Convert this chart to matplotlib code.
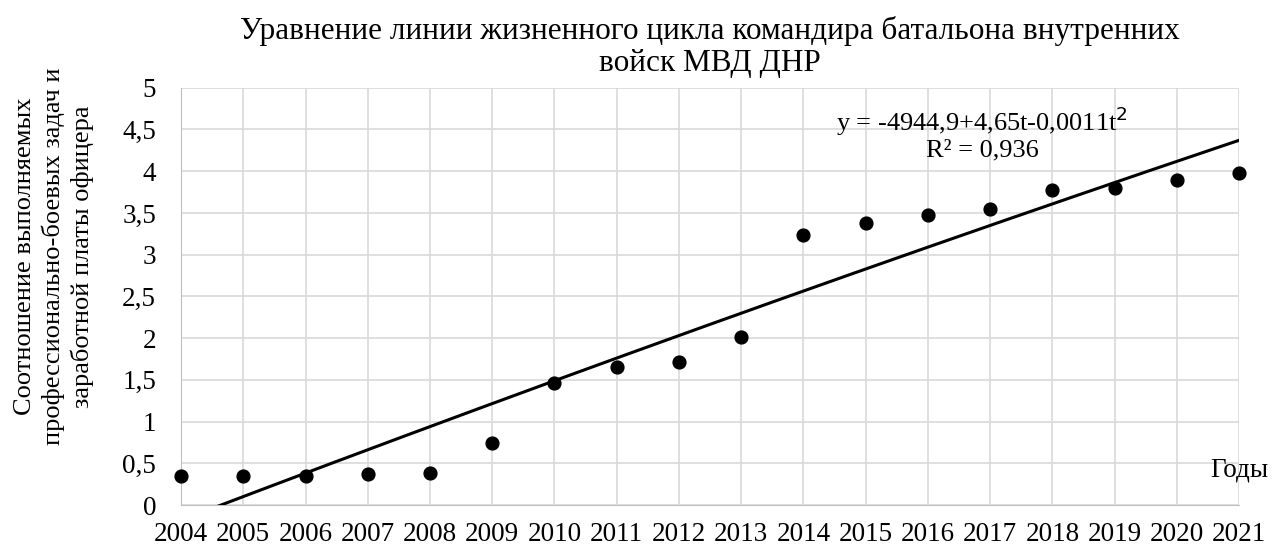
import matplotlib.pyplot as plt
import numpy as np

plt.rcParams["font.family"] = ["Liberation Serif", "DejaVu Serif"]

years = [2004, 2005, 2006, 2007, 2008, 2009, 2010, 2011, 2012,
         2013, 2014, 2015, 2016, 2017, 2018, 2019, 2020, 2021]
ratio = [0.35, 0.35, 0.35, 0.37, 0.39, 0.74, 1.46, 1.66, 1.72,
         2.01, 3.24, 3.38, 3.48, 3.55, 3.77, 3.80, 3.90, 3.98]
y_ticks = [0, 0.5, 1, 1.5, 2, 2.5, 3, 3.5, 4, 4.5, 5]

fig = plt.figure(figsize=(12.84, 5.52), dpi=100)
ax = fig.add_axes([0.141, 0.085, 0.824, 0.756])

# trend line fitted to the points
coef = np.polyfit(years, ratio, 2)
xs = np.linspace(years[0], years[-1], 200)
ax.plot(xs, np.polyval(coef, xs), color="black", lw=2.2, zorder=3)

ax.scatter(years, ratio, s=85, color="black", zorder=4, clip_on=False)

ax.set_xlim(years[0], years[-1])
ax.set_ylim(0, 5)
ax.set_xticks(years)
ax.set_xticklabels([str(y) for y in years], fontsize=19.5)
ax.set_yticks(y_ticks)
ax.set_yticklabels([f"{v:g}".replace(".", ",") for v in y_ticks], fontsize=19.5)
ax.tick_params(axis="y", length=0, pad=18)
ax.tick_params(axis="x", length=0, pad=12)
ax.grid(True, color="#d9d9d9", lw=1.2)
ax.set_axisbelow(True)
for side in ["top", "right"]:
    ax.spines[side].set_visible(False)
for side in ["left", "bottom"]:
    ax.spines[side].set_color("#bfbfbf")

ax.set_title("Уравнение линии жизненного цикла командира батальона внутренних\nвойск МВД ДНР",
             fontsize=22.5, pad=12, linespacing=1.15)
fig.text(0.042, 0.535, "Соотношение выполняемых\nпрофессионально-боевых задач и\nзаработной платы офицера",
         rotation=90, ha="center", va="center", fontsize=19, linespacing=1.3)

ax.text(0.757, 0.96, "y = -4944,9+4,65t-0,0011t$^2$\nR² = 0,936", transform=ax.transAxes,
        ha="center", va="top", fontsize=19, linespacing=1.1)
ax.text(1.028, 0.085, "Годы", transform=ax.transAxes, ha="right", va="center", fontsize=19.5)

fig.savefig("out.png", dpi=100)
